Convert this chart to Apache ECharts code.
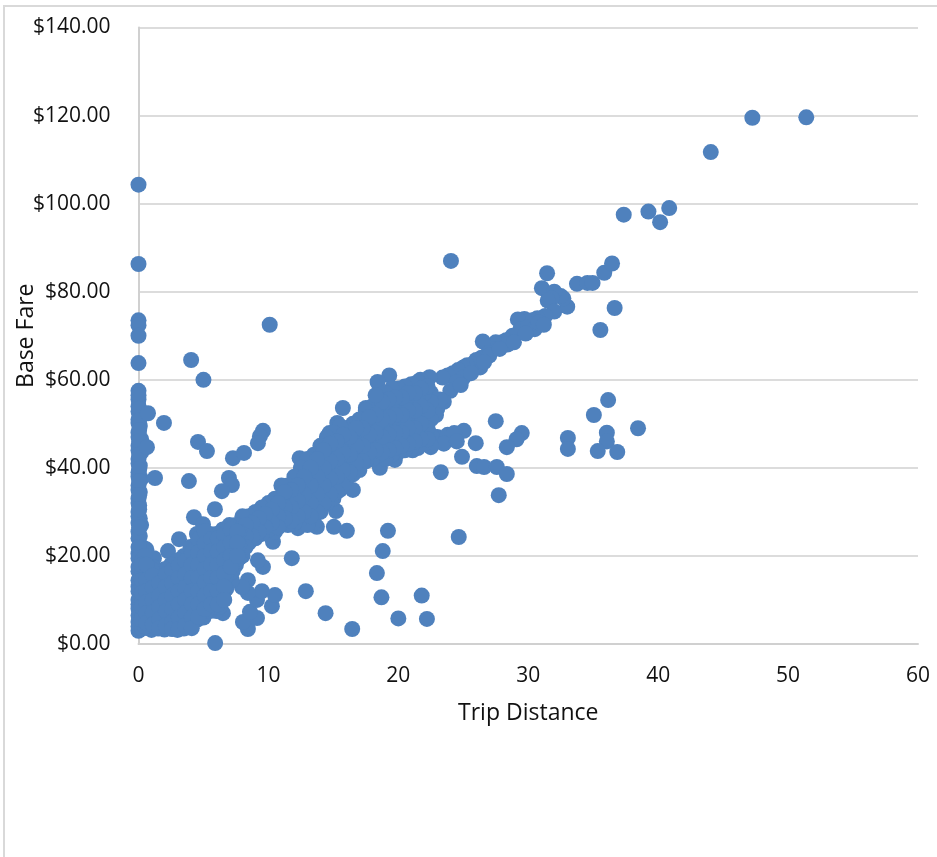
<!DOCTYPE html>
<html><head><meta charset="utf-8">
<style>html,body{margin:0;padding:0;background:#fff;overflow:hidden}
#frame{position:absolute;left:3px;top:5px;width:960px;height:880px;border:2px solid #d9d9d9;box-sizing:border-box}
#c{position:absolute;left:0;top:0;width:937px;height:857px}</style>
<script src="https://cdn.jsdelivr.net/npm/echarts@6/dist/echarts.min.js"></script>
</head><body><div id="frame"></div><div id="c"></div>
<script>
const xTicks={min:0,max:60,interval:10};
const yTicks={min:0,max:140,interval:20};
const upperOutliers=[[51.4,119.6],[47.25,119.5],[44.05,111.7],[37.35,97.5],[39.25,98.2],[40.15,95.8],[40.85,99],[24.05,87],[31.45,84.2],[31.05,80.8],[33.75,81.8],[34.55,82],[34.95,82],[35.85,84.3],[36.45,86.4],[36.65,76.3],[35.55,71.3],[10.1,72.5],[4.05,64.5],[5,60],[15.73,53.6]];
const zeroDistance=[[0,104.3],[0,86.3],[0,73.5],[0,72.4],[0,70],[0,63.8],[0,57.5],[0,55.5],[0,54],[0.1,52.5],[0,51],[0.1,49.5],[0,48],[0.2,46.5],[0,45],[0.2,43.5],[0,42],[0.1,40.5],[0,39],[0.2,37.5],[0,36],[0.1,34.5],[0,33],[0.05,31.5],[0,30],[0.1,28.5],[0.2,27],[0,25.5],[0.1,24.5],[0.3,22],[0.6,21.5],[0,20.5],[0.1,18.5],[0,16.5],[0.2,15],[0,13],[0.1,11],[0,9],[0.2,7],[0,5],[0.1,3.5],[0,3],[0,56.5],[0,52.8],[0,50.2],[0,47],[0,44],[0,41],[0,38],[0,35],[0,32],[0,29],[0,27.5],[0,24],[0,22],[0,19.5],[0,17.5],[0,14.5],[0,12],[0,10],[0,8],[0,6.5],[0,4],[0.3,19],[0.3,16.5],[0.3,13],[0.3,10.5],[0.3,6.5],[0.3,3.5],[0.05,53.4],[0.05,50.8],[0.05,48.6],[0.05,46],[0.05,43],[0.05,39.6],[0.05,37],[0.05,33.8],[0.05,30.6],[0.05,26.5]];
const upperLeftScatter=[[0.73,52.4],[1.96,50.2],[4.58,45.9],[5.27,43.8],[7.27,42.2],[8.12,43.4],[9.58,48.4],[9.35,47.2],[9.19,45.6],[0.65,44.7],[1.27,37.7],[3.88,37],[6.96,37.7],[7.19,36.1],[6.42,34.7],[5.88,30.6],[4.27,28.8],[4.96,27.2],[3.12,23.8],[2.27,21.1],[1.19,19.5],[1.12,17.5]];
const lowerScatter=[[5.9,0.2],[16.45,3.4],[8.42,3.4],[8.04,5],[9.12,5.9],[8.58,7.3],[6.5,7],[10.27,8.6],[10.5,11.1],[9.12,10],[9.5,12],[8.42,11.6],[8.42,14.5],[7.96,12.9],[7.19,14.5],[9.58,17.5],[9.19,19],[11.8,19.5],[12.88,12],[10.35,23.2],[12.27,26.3],[13.73,26.6],[14.4,7],[20,5.8],[22.2,5.7],[21.8,11],[18.7,10.6],[18.35,16.1],[18.8,21.1],[19.2,25.7],[24.65,24.3],[15.04,26.6],[16.04,25.7],[15.2,30.2],[16.5,35]];
const lowerBand=[[27.5,50.6],[25.04,48.4],[29.5,47.9],[29.1,46.5],[28.35,44.7],[25.96,45.6],[24.9,42.5],[26.04,40.4],[26.6,40.2],[27.58,40.2],[28.35,38.6],[23.27,39],[27.73,33.8],[18.58,40],[19.73,41.8],[35.05,52],[36.15,55.4],[36.05,48],[36.05,46],[38.45,49],[36.85,43.6],[35.35,43.8],[33.05,46.8],[33.05,44.3],[23,47],[23.8,47.5],[24.3,47.9],[23.5,45.5],[24.5,46],[22.5,44.7],[21.1,44]];
const ridge=[[33,76.6],[32.7,78.5],[32.5,79],[32,80],[31.8,78.5],[31.5,78],[32,75.5],[31.3,74.5],[30.7,74],[30.3,73.5],[29.7,73.8],[29.2,73.7],[29.4,71.5],[30,72],[30.5,71.5],[28.8,70],[28.3,69],[28,68.5],[27.5,68.5],[27.3,67],[28.4,68],[26.5,68.7],[26.9,66],[26.4,65],[26,64.5],[26.3,62.8],[25.7,63.5],[25.3,63.3],[25,62.8],[24.6,62.2],[24.2,61.5],[23.8,61],[23.4,60.5],[25,60.5],[24.5,59.5],[24,57.5],[23.5,55],[23,53.5],[23.2,55.5],[22.4,60.6],[21.7,60],[19.3,61],[18.4,59.5],[17.5,53.6],[15.3,50.2],[14.7,47.9],[12.4,42.2],[27,65.5],[27.8,67],[28.9,68.5],[29.8,70.5],[30.8,73],[31.2,72.5],[25.6,61.5],[24.8,58.8],[26.6,64],[22.9,52]];
const cloud=[
[22.5,[57,55,51,47.5,45]],[22,[57,53,49,45.5]],[21.5,[59.5,56,52,48,44.5]],[21,[59,55,51,47,44.5]],
[20.5,[58.5,55,51,47,44]],[20,[58,54,50,46,43.5]],[19.5,[58,54,50,46,43]],[19,[57,53,49,45,42]],
[18.5,[55,51,47,43]],[18,[54,50,46,42]],[17.5,[53,49,45,41.5]],[17,[51,47,43,39.5]],
[16.5,[50,46,42,38.5]],[16,[49,45,41,37.5]],[15.5,[49.5,46,42,38,35]],[15,[48,44,40,36,33]],
[14.5,[47,43,39,35.5,32]],[14,[45,41,37,33.5,30]],[13.5,[43,39,35,31,27.5]],[13,[42,38,34,30,27]],
[12.5,[40,36,32,28.5]],[12,[38,34.5,31,27.5]],[11.5,[36,33,29.5,27]],[11,[36,33,30,27.5]],
[10.5,[33,30,27,25.5]],[10,[32,29,26]],[9.5,[31,28,25]],[9,[30,27,24]],
[8.5,[29,26,23]],[8,[29,26,23,20]],[7.5,[27,24,21,18]],[7,[27,24,21,18,16]],
[6.5,[26,23,20,17,14,11]],[6,[25,22,19,16,13,10,7.5]],[5.5,[25,22,19,16,13,10,7.5]],[5,[24,21,18,15,12,9,6]],
[4.5,[25,22,19,16,13,10,7,5.5]],[4,[22,19,16,13,10,7,4]],[3.5,[20,17,14,11,8,5,3.5]],[3,[19,16,13,10,7,4,3.2]],
[2.5,[18,15,12,9,6,3.5]],[2,[17,14,11,8,5,3.3]],[1.5,[15,12,9,6,3.5]],[1,[17,14,11,8,5,3.2]],[0.5,[20,16,13,10,7,4]]];
const cloudFill=[
[22.25,[58.5,53,49,46.5]],[21.75,[58,54,50,46.5]],[21.25,[57,53,49,46]],[20.75,[57,53,49,45.5]],
[20.25,[56,52,48,45]],[19.75,[56,52,48,44.5]],[19.25,[55.5,51.5,47.5,44]],[18.75,[55,51,47,43.5]],
[18.25,[56.5,52,48,44]],[17.75,[51.5,47.5,43.5]],[17.25,[49,45,41.5]],[16.75,[49,45,41]],
[16.25,[47,43,39]],[15.75,[47.5,43.5,39.5,36]],[15.25,[46,42,38,34.5]],[14.75,[45.5,41.5,37.5,34]],
[14.25,[44,40,36,32]],[13.75,[42,38,34,30]],[13.25,[40,36,32,29]],[12.75,[38,34,30]],
[12.25,[36,32.5,29]],[11.75,[35,31,28]],[11.25,[34.5,31,28.5]],[10.75,[32,29,26.5]],
[10.25,[30.5,27.5]],[9.75,[29.5,26.5]],[9.25,[28.5,25.5]],[8.75,[27.5,24.5]],
[8.25,[27,24.5,22]],[7.75,[25.5,22.5,19.5]],[7.25,[25.5,22.5,19.5,16.5]],[6.75,[24.5,21.5,18.5,15.5,12.5]],
[6.25,[23.5,20.5,17.5,14.5,11.5,8.5]],[5.75,[23.5,20.5,17.5,14.5,11.5,8.5]],[5.25,[22.5,19.5,16.5,13.5,10.5,7.5]],[4.75,[23,20,17,14,11,8]],
[4.25,[20.5,17.5,14.5,11.5,8.5,5.5]],[3.75,[18.5,15.5,12.5,9.5,6.5,4]],[3.25,[17.5,14.5,11.5,8.5,5.5]],[2.75,[16.5,13.5,10.5,7.5,4.5]],
[2.25,[15.5,12.5,9.5,6.5,4.5]],[1.75,[13.5,10.5,7.5,4.5]],[1.25,[15,12.5,9.5,6.5,4]],[0.75,[15,11.5,8.5,5.5]],[0.25,[18,14.5,11.5,8.5,5.5]]];
const lowerLeftFill=[
[0.6,[18,14.5,12,9.5,7,4.8]],[1.1,[15.5,12.8,10,7.2,4.4]],[1.6,[13.8,11,8.4,5.6,3.6]],[2.1,[15.8,13,10,7.4,4.2]],
[2.6,[16.8,13.8,11,8,5,3.4]],[3.1,[17.8,15,12,9,6,3.4]],[3.6,[18.8,15.8,12.8,10,7,4.2]],[4.1,[20.8,18,15,12,9,6,3.6]],
[4.6,[23.8,20.8,18,15,12,9,6.2]],[5.1,[25.6,22.8,20,17,14,11,8]],[5.6,[23.8,21,18,15,12,9]],[6.1,[24,21,18,15,12,9]],
[6.6,[24.8,22,19,16,13,10]],[7.1,[26,23,20,17.5]],[7.6,[25.5,23,20]]];
const cloudPoints=cloud.concat(cloudFill,lowerLeftFill).flatMap(([x,ys])=>ys.map(y=>[x,y]));
const points=[].concat(upperOutliers,zeroDistance,upperLeftScatter,lowerScatter,lowerBand,ridge,cloudPoints);
const font='"Open Sans"';
const chart=echarts.init(document.getElementById('c'),null,{renderer:'canvas'});
chart.setOption({animation:false,backgroundColor:'transparent',
grid:{left:138.5,top:27.5,width:779.5,height:616.5,containLabel:false,outerBoundsMode:'none'},
xAxis:{type:'value',...xTicks,name:'Trip Distance',nameLocation:'middle',nameGap:58,nameMoveOverlap:false,
 nameTextStyle:{fontFamily:font,fontSize:23,color:'#111'},
 axisLine:{show:true,onZero:false,lineStyle:{color:'#d0d0d0',width:2}},axisTick:{show:false},splitLine:{show:false},
 axisLabel:{fontFamily:font,fontSize:21,color:'#111',margin:22,showMinLabel:true,showMaxLabel:true}},
yAxis:{type:'value',...yTicks,name:'Base Fare',nameLocation:'middle',nameGap:101,nameMoveOverlap:false,
 nameTextStyle:{fontFamily:font,fontSize:23,color:'#111'},
 axisLine:{show:true,onZero:false,lineStyle:{color:'#d0d0d0',width:2}},axisTick:{show:false},
 splitLine:{show:true,lineStyle:{color:'#dcdcdc',width:2}},
 axisLabel:{fontFamily:font,fontSize:21,color:'#111',margin:28,padding:[2,0,0,0],formatter:v=>'$'+v.toFixed(2),showMinLabel:true,showMaxLabel:true}},
series:[{type:'scatter',data:points,symbol:'circle',symbolSize:16,clip:false,large:false,progressive:0,
 itemStyle:{color:'#4f81bd',opacity:1}}]});
</script></body></html>
